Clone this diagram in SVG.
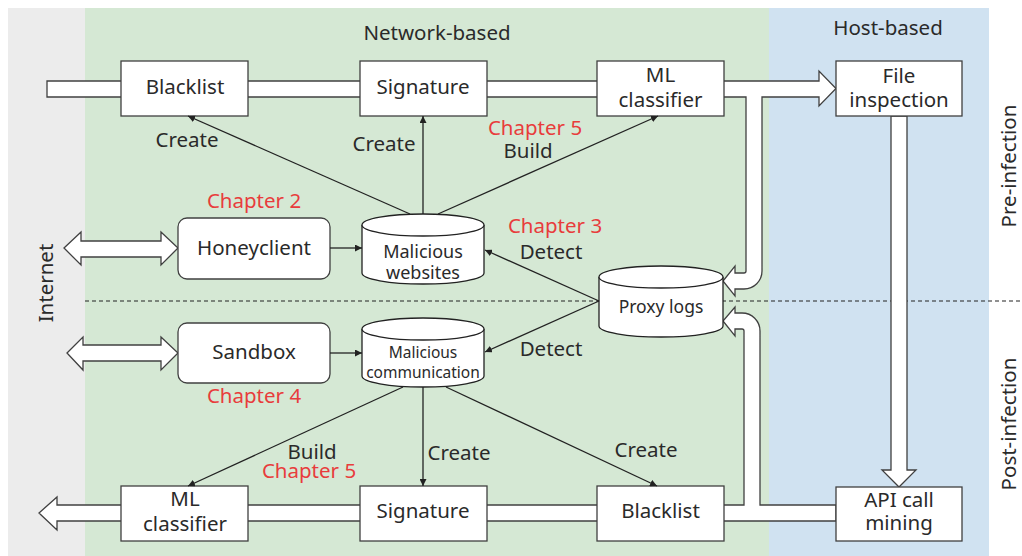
<svg xmlns="http://www.w3.org/2000/svg" width="1022" height="556" viewBox="0 0 1022 556">
  <defs>
    <marker id="ah" viewBox="0 0 10 10" refX="10" refY="5" markerWidth="7" markerHeight="7" markerUnits="userSpaceOnUse" orient="auto">
      <path d="M0,0 L10,5 L0,10 Z" fill="#222"/>
    </marker>
    <style>
      text { font-family: "Noto Sans", "Open Sans", sans-serif; fill: #2a2a2a; }
      .lbl { font-size: 20.5px; text-anchor: middle; }
      .red { font-size: 20.5px; text-anchor: middle; fill: #e83c3c; }
      .box { fill: #fff; stroke: #404040; stroke-width: 1.3; }
      .bar { fill: #fff; stroke: #404040; stroke-width: 1.3; stroke-linejoin: miter; }
      .cyl { fill: #fff; stroke: #222; stroke-width: 1.3; }
      .conn { stroke: #222; stroke-width: 1.3; fill: none; marker-end: url(#ah); }
    </style>
  </defs>

  <!-- zones -->
  <rect x="8" y="8" width="77" height="548" fill="#ececec"/>
  <rect x="85" y="8" width="684" height="548" fill="#d5e8d4"/>
  <rect x="769" y="8" width="220" height="548" fill="#d0e2f1"/>

  <!-- pre / post infection divider -->
  <line x1="85" y1="301" x2="1022" y2="301" stroke="#222" stroke-width="1.2" stroke-dasharray="4 3"/>

  <!-- block arrows (traffic flow) -->
  <g id="flows">
    <path class="bar" d="M47 81 L819 81 L819 71 L836 88.5 L819 106 L819 97 L762 97 L762 271 A18 18 0 0 1 744 289 L735 289 L735 296 L723 281 L735 266 L735 273 L744 273 A2 2 0 0 0 746 271 L746 97 L47 97 Z"/>
    <path class="bar" d="M836 505 L760 505 L760 331 A18 18 0 0 0 742 313 L735 313 L735 307 L723 321 L735 336 L735 329 L742 329 A2 2 0 0 1 744 331 L744 505 L57 505 L57 497 L39 513 L57 530 L57 521 L836 521 Z"/>
    <path class="bar" d="M891 116 L891 470 L882 470 L899 487 L916 470 L907 470 L907 116 Z"/>
    <path class="bar" d="M64 248 L81 232 L81 241 L161 241 L161 232 L178 248 L161 265 L161 257 L81 257 L81 265 Z"/>
    <path class="bar" d="M67 353 L83 337 L83 345 L161 345 L161 337 L178 353 L161 370 L161 361 L83 361 L83 370 Z"/>
  </g>

  <!-- zone titles -->
  <text class="lbl" x="437" y="40">Network-based</text>
  <text class="lbl" x="888" y="35">Host-based</text>
  <text class="lbl" transform="translate(53,283) rotate(-90)">Internet</text>
  <text class="lbl" transform="translate(1016,166) rotate(-90)">Pre-infection</text>
  <text class="lbl" transform="translate(1016,424) rotate(-90)">Post-infection</text>

  <!-- top row -->
  <g id="blacklist-top">
    <rect class="box" x="121" y="61" width="127" height="55"/>
    <text class="lbl" x="185" y="94">Blacklist</text>
  </g>
  <g id="signature-top">
    <rect class="box" x="360" y="61" width="127" height="55"/>
    <text class="lbl" x="423" y="94">Signature</text>
  </g>
  <g id="ml-top">
    <rect class="box" x="597" y="61" width="127" height="55"/>
    <text class="lbl" x="660.5" y="82">ML</text>
    <text class="lbl" x="660.5" y="107">classifier</text>
  </g>
  <g id="file-inspection">
    <rect class="box" x="836" y="61" width="126" height="55"/>
    <text class="lbl" x="899" y="83">File</text>
    <text class="lbl" x="899" y="107">inspection</text>
  </g>

  <!-- collectors -->
  <g id="honeyclient">
    <rect class="box" x="178" y="218" width="152" height="61" rx="9"/>
    <text class="lbl" x="254" y="255">Honeyclient</text>
  </g>
  <g id="sandbox">
    <rect class="box" x="178" y="323" width="152" height="60" rx="9"/>
    <text class="lbl" x="254" y="359">Sandbox</text>
  </g>

  <!-- data stores -->
  <g id="malicious-websites">
    <path class="cyl" d="M362 225 A61 11 0 0 1 484 225 L484 273 A61 11 0 0 1 362 273 Z"/>
    <path class="cyl" d="M362 225 A61 11 0 0 0 484 225"/>
    <text x="423" y="258" style="font-size:18px;text-anchor:middle">Malicious</text>
    <text x="423" y="279" style="font-size:18px;text-anchor:middle">websites</text>
  </g>
  <g id="malicious-communication">
    <path class="cyl" d="M362 329 A61 11 0 0 1 484 329 L484 376 A61 11 0 0 1 362 376 Z"/>
    <path class="cyl" d="M362 329 A61 11 0 0 0 484 329"/>
    <text x="423" y="358" style="font-size:15.5px;text-anchor:middle">Malicious</text>
    <text x="423" y="378" style="font-size:15.5px;text-anchor:middle">communication</text>
  </g>
  <g id="proxy-logs">
    <path class="cyl" d="M599 277 A62 11 0 0 1 723 277 L723 326 A62 11 0 0 1 599 326 Z"/>
    <path class="cyl" d="M599 277 A62 11 0 0 0 723 277"/>
    <text x="661" y="313" style="font-size:17.5px;text-anchor:middle">Proxy logs</text>
  </g>

  <!-- bottom row -->
  <g id="ml-bottom">
    <rect class="box" x="121" y="486" width="127" height="55"/>
    <text class="lbl" x="185" y="506">ML</text>
    <text class="lbl" x="185" y="531">classifier</text>
  </g>
  <g id="signature-bottom">
    <rect class="box" x="360" y="486" width="127" height="55"/>
    <text class="lbl" x="423" y="518">Signature</text>
  </g>
  <g id="blacklist-bottom">
    <rect class="box" x="597" y="486" width="127" height="55"/>
    <text class="lbl" x="660.5" y="518">Blacklist</text>
  </g>
  <g id="api-call-mining">
    <rect class="box" x="836" y="487" width="126" height="54"/>
    <text class="lbl" x="899" y="507">API call</text>
    <text class="lbl" x="899" y="530">mining</text>
  </g>

  <!-- connectors -->
  <g id="connectors">
    <line class="conn" x1="410" y1="214" x2="188" y2="116"/>
    <line class="conn" x1="423" y1="214" x2="423" y2="116"/>
    <line class="conn" x1="438" y1="214" x2="658" y2="116"/>
    <line class="conn" x1="330" y1="248" x2="362" y2="248"/>
    <line class="conn" x1="330" y1="353" x2="362" y2="353"/>
    <line class="conn" x1="599" y1="301" x2="485" y2="250"/>
    <line class="conn" x1="599" y1="301" x2="485" y2="352"/>
    <line class="conn" x1="403" y1="387" x2="188" y2="486"/>
    <line class="conn" x1="423" y1="387" x2="423" y2="486"/>
    <line class="conn" x1="446" y1="387" x2="657" y2="486"/>
  </g>

  <!-- connector labels -->
  <text class="lbl" x="187" y="147">Create</text>
  <text class="lbl" x="384" y="151">Create</text>
  <text class="red" x="535" y="135">Chapter 5</text>
  <text class="lbl" x="528" y="158">Build</text>
  <text class="red" x="254" y="208">Chapter 2</text>
  <text class="red" x="555" y="233">Chapter 3</text>
  <text class="lbl" x="551" y="259">Detect</text>
  <text class="lbl" x="551" y="356">Detect</text>
  <text class="red" x="254" y="403">Chapter 4</text>
  <text class="lbl" x="312" y="459">Build</text>
  <text class="red" x="309" y="478">Chapter 5</text>
  <text class="lbl" x="459" y="460">Create</text>
  <text class="lbl" x="646" y="457">Create</text>
</svg>
